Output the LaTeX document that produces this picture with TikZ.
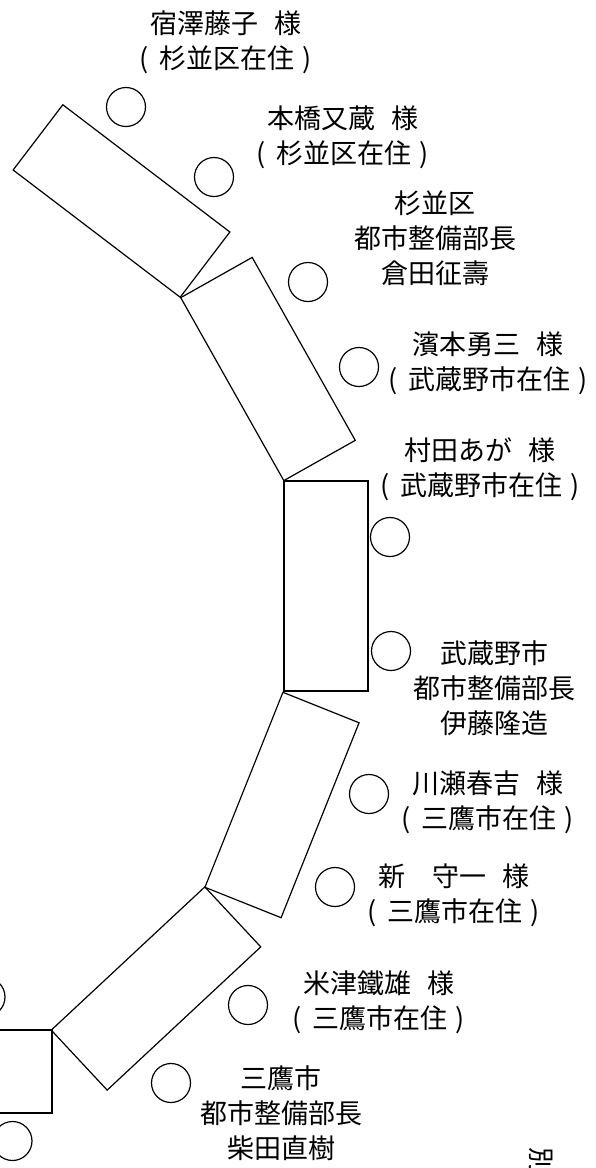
\documentclass[tikz,border=0pt]{standalone}
\usepackage{fontspec}
\newfontfamily\jpfont{Noto Sans CJK JP}
\begin{document}
\begin{tikzpicture}[x=1pt, y=-1pt, line width=1.2pt,
  seat/.style={circle, draw, minimum size=39pt, inner sep=0pt},
  desk/.style={rectangle, draw, minimum width=210pt, minimum height=82pt, inner sep=0pt},
  guest/.style={align=center, inner sep=0pt, font=\jpfont\fontsize{27}{35}\selectfont}]
\path[use as bounding box, clip] (0,0) rectangle (596,1168);
\node[desk, rotate=-37.3] (tbl0) at (121.5,201){};
\node[desk, rotate=-60.6] (tbl1) at (268,369){};
\node[desk, rotate=90, minimum height=84pt] (tbl2) at (326,586){};
\node[desk, rotate=68.2] (tbl3) at (282,805){};
\node[desk, rotate=43] (tbl4) at (156,988.5){};
\node[desk, minimum height=83pt] (tbl5) at (-53,1071.5){};
\node[seat] (chr0) at (126,107){};
\node[seat] (chr1) at (214,177){};
\node[seat] (chr2) at (308,282){};
\node[seat] (chr3) at (359,367){};
\node[seat] (chr4) at (390,537){};
\node[seat] (chr5) at (391,651){};
\node[seat] (chr6) at (369,794){};
\node[seat] (chr7) at (335,887){};
\node[seat] (chr8) at (248,1005){};
\node[seat] (chr9) at (171,1083){};
\node[seat] (chr10) at (-14.5,997){};
\node[seat] (chr11) at (12.5,1141){};
\node[guest] (lbl0) at (226,42){宿澤藤子\hspace{.6em}様\\(\hspace{.4em}杉並区在住\hspace{.3em})};
\node[guest] (lbl1) at (343,137){本橋又蔵\hspace{.6em}様\\(\hspace{.4em}杉並区在住\hspace{.3em})};
\node[guest] (lbl2) at (435,238){杉並区\\都市整備部長\\倉田征壽};
\node[guest] (lbl3) at (488,363.5){濱本勇三\hspace{.6em}様\\(\hspace{.4em}武蔵野市在住\hspace{.3em})};
\node[guest] (lbl4) at (480,469.5){村田あが\hspace{.6em}様\\(\hspace{.4em}武蔵野市在住\hspace{.3em})};
\node[guest] (lbl5) at (494,688){武蔵野市\\都市整備部長\\伊藤隆造};
\node[guest] (lbl6) at (488,802.5){川瀬春吉\hspace{.6em}様\\(\hspace{.4em}三鷹市在住\hspace{.3em})};
\node[guest] (lbl7) at (454,895.5){新　守一\hspace{.6em}様\\(\hspace{.4em}三鷹市在住\hspace{.3em})};
\node[guest] (lbl8) at (379,1002.5){米津鐵雄\hspace{.6em}様\\(\hspace{.4em}三鷹市在住\hspace{.3em})};
\node[guest] (lbl9) at (281,1113){三鷹市\\都市整備部長\\柴田直樹};
\node[guest, rotate=-90, anchor=west] (lbl10) at (541,1147){別};
\end{tikzpicture}
\end{document}
